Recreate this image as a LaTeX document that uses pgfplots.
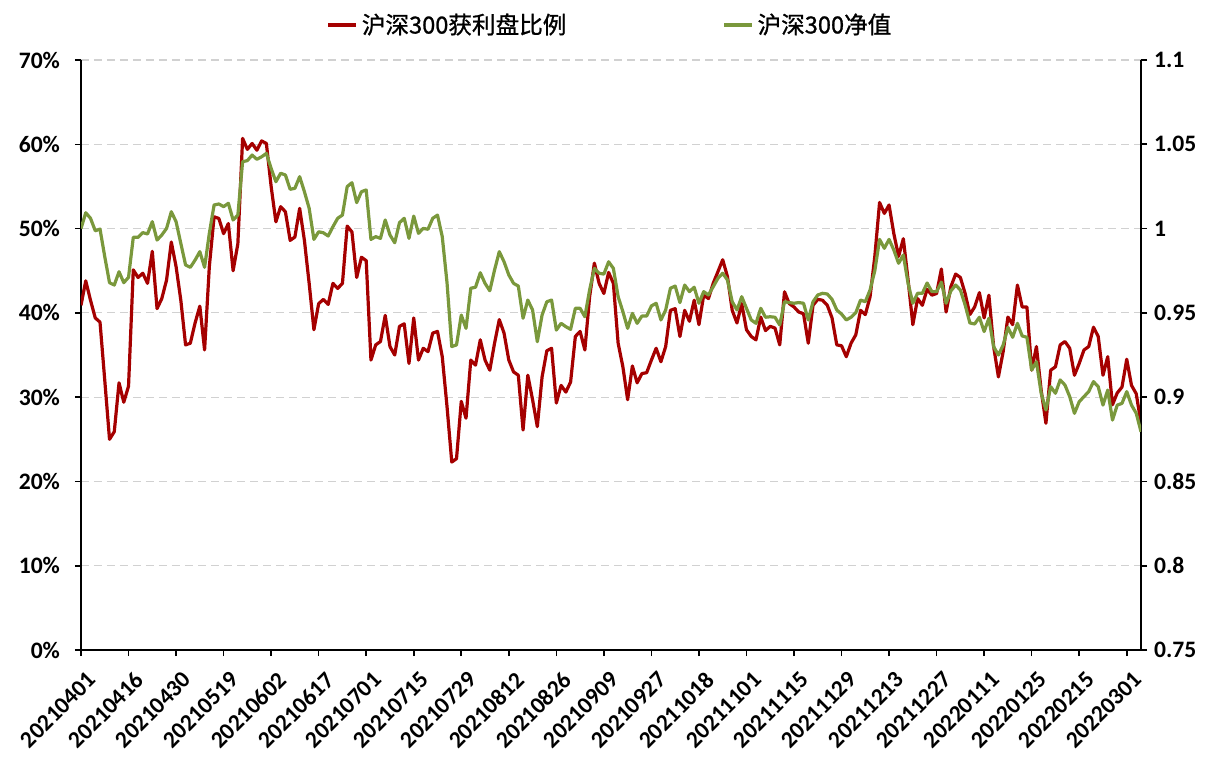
\documentclass[border=0pt]{standalone}
\usepackage{pgfplots}
\pgfplotsset{compat=1.18}
\usepackage{fontspec}
\setmainfont{Carlito}
\newfontfamily\cjk{Noto Sans CJK SC}[FakeBold=1]
\definecolor{hsred}{RGB}{165,0,0}
\definecolor{hsgreen}{RGB}{122,152,60}
\begin{document}
\begin{tikzpicture}
\useasboundingbox (-40.5pt,-56pt) rectangle (567pt,325pt);
\begin{axis}[
  at={(0pt,0pt)}, anchor=south west,
  scale only axis, width=530pt, height=295pt,
  xmin=0, xmax=223, ymin=0, ymax=70,
  axis y line*=left, axis x line*=bottom,
  axis line style={-, line width=0.9pt, black},
  xtick={0,10,...,220},
  xticklabels={20210401,20210416,20210430,20210519,20210602,20210617,20210701,20210715,20210729,20210812,20210826,20210909,20210927,20211018,20211101,20211115,20211129,20211213,20211227,20220111,20220125,20220215,20220301},
  ytick={0,10,...,70},
  yticklabel={\pgfmathprintnumber{\tick}\%},
  /pgf/number format/assume math mode=true,
  tick align=outside, major tick length=3pt,
  tick style={black, line width=0.8pt},
  ymajorgrids,
  major grid style={black!18, dash pattern=on 4pt off 2.5pt, line width=0.6pt},
  ticklabel style={font=\bfseries\fontsize{11.8}{13}\selectfont},
  yticklabel style={xshift=-4pt},
  xticklabel style={xshift=2.7pt, yshift=-7pt, rotate=45, anchor=north east, inner sep=0pt},
  legend style={at={(0.5,1)}, anchor=center, yshift=17.5pt, draw=none, fill=none,
    font=\cjk\fontsize{11.8}{14}\selectfont, legend columns=2,
    /tikz/every even column/.append style={column sep=76pt}},
  legend image code/.code={\draw[#1] (0pt,0pt) -- (14pt,0pt);},
]
\addplot[hsred, line width=1.6pt, line join=round] table {
0 40.9
1 43.8
2 41.5
3 39.4
4 38.9
5 32.0
6 25.0
7 25.9
8 31.7
9 29.4
10 31.3
11 45.1
12 44.2
13 44.7
14 43.5
15 47.3
16 40.5
17 41.7
18 43.9
19 48.4
20 45.5
21 41.5
22 36.2
23 36.4
24 38.8
25 40.8
26 35.6
27 45.5
28 51.4
29 51.2
30 49.4
31 50.6
32 45.0
33 48.2
34 60.7
35 59.4
36 60.1
37 59.3
38 60.4
39 60.1
40 55.0
41 50.8
42 52.6
43 52.0
44 48.6
45 49.0
46 52.4
47 48.6
48 43.5
49 38.0
50 41.1
51 41.6
52 41.0
53 43.5
54 42.9
55 43.5
56 50.3
57 49.6
58 44.2
59 46.6
60 46.2
61 34.4
62 36.2
63 36.6
64 39.7
65 36.0
66 35.0
67 38.4
68 38.7
69 34.0
70 39.4
71 34.4
72 35.8
73 35.4
74 37.6
75 37.8
76 34.8
77 28.9
78 22.3
79 22.7
80 29.5
81 27.5
82 34.4
83 33.8
84 36.8
85 34.4
86 33.2
87 36.4
88 39.2
89 37.6
90 34.4
91 33.0
92 32.6
93 26.1
94 32.6
95 29.7
96 26.5
97 32.4
98 35.5
99 35.8
100 29.3
101 31.4
102 30.6
103 31.8
104 37.2
105 37.8
106 35.6
107 41.9
108 45.9
109 43.5
110 42.3
111 44.8
112 43.5
113 36.4
114 33.6
115 29.7
116 33.7
117 31.7
118 32.8
119 32.9
120 34.4
121 35.8
122 34.2
123 36.0
124 40.3
125 40.5
126 37.2
127 40.3
128 39.0
129 41.5
130 38.6
131 42.1
132 41.7
133 43.5
134 44.9
135 46.3
136 44.3
137 40.3
138 38.8
139 41.1
140 38.0
141 37.2
142 36.8
143 39.5
144 37.9
145 38.4
146 38.2
147 36.2
148 42.5
149 41.1
150 40.7
151 40.1
152 39.9
153 36.4
154 40.9
155 41.6
156 41.5
157 40.9
158 39.4
159 36.2
160 36.1
161 34.8
162 36.4
163 37.4
164 40.3
165 39.8
166 41.9
167 46.7
168 53.1
169 51.8
170 52.8
171 49.4
172 46.7
173 48.8
174 43.9
175 38.6
176 41.7
177 40.9
178 42.8
179 42.1
180 42.3
181 45.2
182 40.1
183 43.1
184 44.6
185 44.2
186 42.3
187 39.8
188 40.7
189 42.4
190 39.4
191 42.1
192 36.0
193 32.4
194 35.4
195 39.5
196 38.6
197 43.3
198 40.7
199 40.7
200 33.2
201 36.0
202 30.8
203 26.9
204 33.2
205 33.6
206 36.2
207 36.6
208 35.8
209 32.6
210 34.0
211 35.6
212 36.0
213 38.3
214 37.2
215 32.6
216 34.8
217 29.1
218 30.5
219 31.2
220 34.5
221 31.4
222 30.4
223 26.9
};
\addlegendentry{沪深300获利盘比例}
\addlegendimage{hsgreen, line width=1.6pt}
\addlegendentry{沪深300净值}
\end{axis}
\begin{axis}[
  at={(0pt,0pt)}, anchor=south west,
  scale only axis, width=530pt, height=295pt,
  xmin=0, xmax=223, ymin=0.75, ymax=1.1,
  axis y line*=right, axis x line=none,
  axis line style={-, line width=0.9pt, black},
  ytick={0.75,0.8,0.85,0.9,0.95,1,1.05,1.1},
  yticklabels={0.75,0.8,0.85,0.9,0.95,1,1.05,1.1},
  tick align=outside, major tick length=3pt,
  tick style={black, line width=0.8pt},
  ticklabel style={font=\bfseries\fontsize{11.8}{13}\selectfont},
]
\addplot[hsgreen, line width=1.6pt, line join=round] table {
0 1.0000
1 1.0094
2 1.0061
3 0.9987
4 0.9997
5 0.9833
6 0.9679
7 0.9665
8 0.9744
9 0.9679
10 0.9711
11 0.9948
12 0.9948
13 0.9976
14 0.9968
15 1.0041
16 0.9932
17 0.9962
18 1.0001
19 1.0100
20 1.0041
21 0.9912
22 0.9784
23 0.9770
24 0.9813
25 0.9863
26 0.9770
27 0.9972
28 1.0140
29 1.0146
30 1.0130
31 1.0150
32 1.0051
33 1.0080
34 1.0397
35 1.0403
36 1.0436
37 1.0411
38 1.0426
39 1.0446
40 1.0357
41 1.0278
42 1.0328
43 1.0318
44 1.0233
45 1.0239
46 1.0308
47 1.0219
48 1.0120
49 0.9936
50 0.9981
51 0.9975
52 0.9956
53 1.0011
54 1.0061
55 1.0080
56 1.0249
57 1.0272
58 1.0154
59 1.0219
60 1.0229
61 0.9936
62 0.9952
63 0.9942
64 1.0051
65 0.9962
66 0.9916
67 1.0035
68 1.0061
69 0.9942
70 1.0074
71 0.9972
72 1.0001
73 0.9996
74 1.0061
75 1.0080
76 0.9952
77 0.9680
78 0.9300
79 0.9310
80 0.9487
81 0.9408
82 0.9646
83 0.9652
84 0.9738
85 0.9675
86 0.9631
87 0.9754
88 0.9863
89 0.9803
90 0.9725
91 0.9675
92 0.9659
93 0.9468
94 0.9576
95 0.9517
96 0.9329
97 0.9487
98 0.9566
99 0.9576
100 0.9398
101 0.9438
102 0.9418
103 0.9402
104 0.9527
105 0.9527
106 0.9477
107 0.9636
108 0.9764
109 0.9735
110 0.9730
111 0.9803
112 0.9764
113 0.9596
114 0.9507
115 0.9408
116 0.9497
117 0.9438
118 0.9481
119 0.9481
120 0.9541
121 0.9557
122 0.9458
123 0.9517
124 0.9646
125 0.9659
126 0.9561
127 0.9665
128 0.9626
129 0.9652
130 0.9557
131 0.9626
132 0.9606
133 0.9655
134 0.9705
135 0.9735
136 0.9695
137 0.9566
138 0.9517
139 0.9596
140 0.9527
141 0.9458
142 0.9438
143 0.9527
144 0.9474
145 0.9477
146 0.9474
147 0.9428
148 0.9566
149 0.9561
150 0.9557
151 0.9561
152 0.9557
153 0.9458
154 0.9566
155 0.9606
156 0.9616
157 0.9612
158 0.9580
159 0.9517
160 0.9493
161 0.9458
162 0.9474
163 0.9501
164 0.9576
165 0.9566
166 0.9636
167 0.9750
168 0.9936
169 0.9883
170 0.9936
171 0.9873
172 0.9794
173 0.9843
174 0.9675
175 0.9557
176 0.9616
177 0.9616
178 0.9677
179 0.9626
180 0.9626
181 0.9682
182 0.9557
183 0.9630
184 0.9665
185 0.9636
186 0.9547
187 0.9440
188 0.9434
189 0.9474
190 0.9389
191 0.9468
192 0.9299
193 0.9250
194 0.9309
195 0.9414
196 0.9355
197 0.9438
198 0.9363
199 0.9355
200 0.9161
201 0.9210
202 0.9023
203 0.8924
204 0.9062
205 0.9023
206 0.9102
207 0.9072
208 0.9003
209 0.8904
210 0.8973
211 0.9003
212 0.9033
213 0.9092
214 0.9062
215 0.8953
216 0.9042
217 0.8864
218 0.8953
219 0.8963
220 0.9033
221 0.8953
222 0.8904
223 0.8795
};
\end{axis}
\end{tikzpicture}
\end{document}
